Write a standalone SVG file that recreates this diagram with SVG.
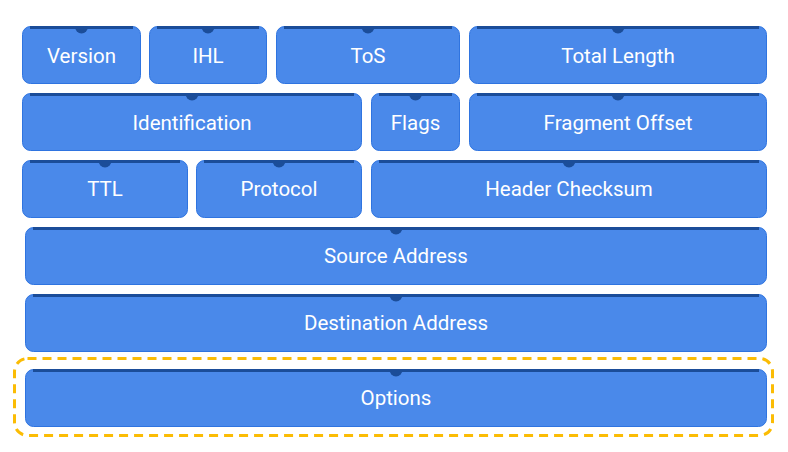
<svg xmlns="http://www.w3.org/2000/svg" width="788" height="452" viewBox="0 0 788 452">
<defs>
<style>
.box{fill:#4a89ea;stroke:#2f74e0;stroke-width:1}
.band{fill:#1b4d99}
.lbl{fill:#ffffff;font-family:Roboto,"Liberation Sans",sans-serif;font-size:20.5px;text-anchor:middle;dominant-baseline:central}
.sel{fill:none;stroke:#fbbc04;stroke-width:3;stroke-dasharray:9 6}
</style>
<path id="notch" class="band" d="M-6.5 0 A6.5 6.5 0 0 0 6.5 0 Z"/>
</defs>
<rect width="788" height="452" fill="#ffffff"/>
<g id="version"><rect class="box" x="22.5" y="26.5" width="118" height="57" rx="8"/><rect class="band" x="30" y="26" width="103" height="3"/><use href="#notch" x="81.5" y="27"/><text class="lbl" x="81.5" y="56">Version</text></g>
<g id="ihl"><rect class="box" x="149.5" y="26.5" width="117" height="57" rx="8"/><rect class="band" x="157" y="26" width="102" height="3"/><use href="#notch" x="208" y="27"/><text class="lbl" x="208" y="56">IHL</text></g>
<g id="tos"><rect class="box" x="276.5" y="26.5" width="183" height="57" rx="8"/><rect class="band" x="284" y="26" width="168" height="3"/><use href="#notch" x="368" y="27"/><text class="lbl" x="368" y="56">ToS</text></g>
<g id="total-length"><rect class="box" x="469.5" y="26.5" width="297" height="57" rx="8"/><rect class="band" x="477" y="26" width="282" height="3"/><use href="#notch" x="618" y="27"/><text class="lbl" x="618" y="56">Total Length</text></g>
<g id="identification"><rect class="box" x="22.5" y="93.5" width="339" height="57" rx="8"/><rect class="band" x="30" y="93" width="324" height="3"/><use href="#notch" x="192" y="94"/><text class="lbl" x="192" y="123">Identification</text></g>
<g id="flags"><rect class="box" x="371.5" y="93.5" width="88" height="57" rx="8"/><rect class="band" x="379" y="93" width="73" height="3"/><use href="#notch" x="415.5" y="94"/><text class="lbl" x="415.5" y="123">Flags</text></g>
<g id="fragment-offset"><rect class="box" x="469.5" y="93.5" width="297" height="57" rx="8"/><rect class="band" x="477" y="93" width="282" height="3"/><use href="#notch" x="618" y="94"/><text class="lbl" x="618" y="123">Fragment Offset</text></g>
<g id="ttl"><rect class="box" x="22.5" y="160.5" width="165" height="57" rx="8"/><rect class="band" x="30" y="160" width="150" height="3"/><use href="#notch" x="105" y="161"/><text class="lbl" x="105" y="189">TTL</text></g>
<g id="protocol"><rect class="box" x="196.5" y="160.5" width="165" height="57" rx="8"/><rect class="band" x="204" y="160" width="150" height="3"/><use href="#notch" x="279" y="161"/><text class="lbl" x="279" y="189">Protocol</text></g>
<g id="header-checksum"><rect class="box" x="371.5" y="160.5" width="395" height="57" rx="8"/><rect class="band" x="379" y="160" width="380" height="3"/><use href="#notch" x="569" y="161"/><text class="lbl" x="569" y="189">Header Checksum</text></g>
<g id="source-address"><rect class="box" x="25.5" y="227.5" width="741" height="57" rx="8"/><rect class="band" x="33" y="227" width="726" height="3"/><use href="#notch" x="396" y="228"/><text class="lbl" x="396" y="256">Source Address</text></g>
<g id="destination-address"><rect class="box" x="25.5" y="294.5" width="741" height="57" rx="8"/><rect class="band" x="33" y="294" width="726" height="3"/><use href="#notch" x="396" y="295"/><text class="lbl" x="396" y="323">Destination Address</text></g>
<g id="options"><rect class="box" x="25.5" y="369.5" width="741" height="57" rx="8"/><rect class="band" x="33" y="369" width="726" height="3"/><use href="#notch" x="396" y="370"/><text class="lbl" x="396" y="398">Options</text></g>
<g id="options-highlight"><rect class="sel" x="14.5" y="358.5" width="758" height="77" rx="13"/></g>
</svg>
